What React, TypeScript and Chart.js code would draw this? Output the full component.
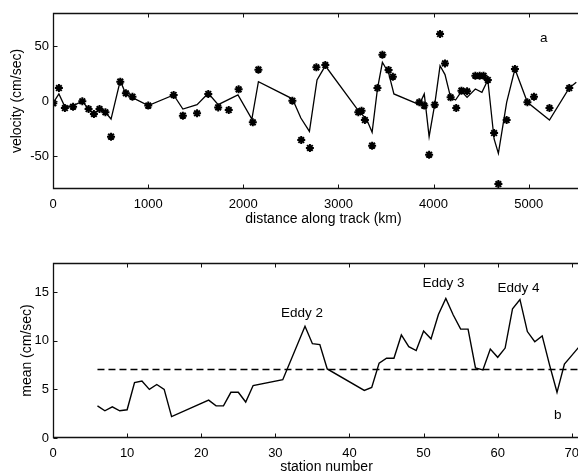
import React, { useEffect, useRef } from 'react';
import { Chart, registerables } from 'chart.js';

Chart.register(...registerables);
Chart.defaults.font.family = "'Liberation Sans', Arial, Helvetica, sans-serif";
Chart.defaults.color = '#000';

// ---------- Panel a: velocity along track ----------
const lineDistanceKm = [0, 62, 125, 211, 308, 374, 430, 489, 551, 610, 707, 766, 835, 1001, 1268, 1365, 1514, 1632, 1736, 1944, 2090, 2159, 2516, 2605, 2695, 2775, 2862, 3209, 3295, 3354, 3410, 3462, 3527, 3583, 3850, 3902, 3953, 4012, 4068, 4120, 4179, 4231, 4293, 4352, 4439, 4508, 4570, 4636, 4681, 4768, 4855, 4986, 5218, 5426, 5500];
const lineVelocity = [-2, 6.4, -5.2, -4.2, -0.3, -7.3, -11.8, -7.3, -10.3, -16.4, 18.5, 6.1, 3, -4.2, 5.5, -7.3, -3.3, 7, -3.3, 5.5, -16.4, 17.6, 2, -15.5, -27.6, 19.1, 32, -8.8, -16.4, -28.5, 11, 35.2, 25.5, 6.4, -3.3, 6.4, -32.4, -3, 32, 24, 3.3, 0.9, 8.8, 3.3, 10.9, 7.9, 19.1, -34.5, -47.6, -1.2, 29.1, -1.2, -17.3, 11.8, 17];

const starDistanceKm = [3, 62, 125, 211, 308, 374, 430, 489, 551, 610, 707, 766, 835, 1001, 1268, 1365, 1514, 1632, 1736, 1847, 1951, 2100, 2159, 2516, 2609, 2700, 2768, 2862, 3209, 3243, 3278, 3354, 3410, 3462, 3527, 3572, 3850, 3902, 3953, 4012, 4068, 4120, 4179, 4238, 4293, 4352, 4439, 4484, 4525, 4570, 4636, 4681, 4768, 4855, 4986, 5055, 5218, 5426];
const starVelocity = [-2.1, 11.8, -6.4, -5.2, -0.3, -7.3, -11.8, -7.3, -10.3, -32.4, 17.6, 7, 3.9, -4.2, 5.5, -13.3, -11.2, 6.4, -5.8, -8.2, 10.6, -19.4, 28.5, 0.3, -35.5, -42.7, 30.6, 32.7, -10.3, -8.8, -17.3, -40.6, 11.8, 42.1, 28.2, 22.1, -1.2, -4.2, -48.8, -3.4, 60.9, 34.2, 3.3, -6.4, 9.4, 8.8, 23, 23, 23, 19.1, -29.1, -75.5, -17.3, 29.1, -1.2, 3.9, -6.4, 11.8];

const distanceTicks = [0, 1000, 2000, 3000, 4000, 5000];
const velocityTicks = [-50, 0, 50];

// ---------- Panel b: mean speed by station ----------
const stationNumbers = [6, 7, 8, 9, 10, 11, 12, 13, 14, 15, 16, 21, 22, 23, 24, 25, 26, 27, 31, 34, 35, 36, 37, 42, 43, 44, 45, 46, 47, 48, 49, 50, 51, 52, 53, 54, 55, 56, 57, 58, 59, 60, 61, 62, 63, 64, 65, 66, 67, 68, 69, 70, 71];
const meanSpeed = [3.3, 2.8, 3.2, 2.8, 2.9, 5.7, 5.85, 5.0, 5.5, 5.0, 2.2, 3.9, 3.3, 3.3, 4.7, 4.7, 3.7, 5.4, 6.0, 11.5, 9.7, 9.6, 7.1, 4.9, 5.2, 7.7, 8.2, 8.2, 10.6, 9.4, 9.0, 11.0, 10.2, 12.7, 14.35, 12.65, 11.2, 11.2, 7.2, 7.0, 9.15, 8.3, 9.25, 13.3, 14.25, 10.95, 9.9, 10.5, 7.5, 4.7, 7.6, 8.5, 9.4];
const thresholdStations = [6, 71];
const thresholdMean = [7.05, 7.05];

const stationTicks = [0, 10, 20, 30, 40, 50, 60, 70];
const meanTicks = [0, 5, 10, 15];

// ---------- text annotations (data coordinates) ----------
const panelALabels = [{ text: 'a', x: 5159, y: 57 }];
const panelBLabels = [
  { text: 'Eddy 2', x: 33.6, y: 12.86 },
  { text: 'Eddy 3', x: 52.7, y: 15.9 },
  { text: 'Eddy 4', x: 62.8, y: 15.4 },
  { text: 'b', x: 68.1, y: 2.37 },
];

const FONT = "'Liberation Sans', Arial, Helvetica, sans-serif";

function toPoints(xs: number[], ys: number[]) {
  return xs.map((x, i) => ({ x, y: ys[i] }));
}

function makeFramePlugin(labels: { text: string; x: number; y: number }[]) {
  return {
    id: 'frame',
    afterDatasetsDraw(chart: any) {
      const { ctx, chartArea } = chart;
      const xs = chart.scales.x;
      const ys = chart.scales.y;
      const L = Math.round(chartArea.left) + 0.5;
      const R = Math.round(chartArea.right) - 0.5;
      const T = Math.round(chartArea.top) + 0.5;
      const B = Math.round(chartArea.bottom) - 0.5;
      ctx.save();
      ctx.strokeStyle = '#111';
      ctx.lineWidth = 1.3;
      ctx.beginPath();
      ctx.rect(L, T, R - L, B - T);
      ctx.stroke();
      const tl = 4;
      ctx.lineWidth = 1;
      ctx.beginPath();
      for (const t of xs.ticks) {
        const px = Math.round(xs.getPixelForValue(t.value)) + 0.5;
        ctx.moveTo(px, B);
        ctx.lineTo(px, B - tl);
        ctx.moveTo(px, T);
        ctx.lineTo(px, T + tl);
      }
      for (const t of ys.ticks) {
        const py = Math.round(ys.getPixelForValue(t.value)) + 0.5;
        ctx.moveTo(L, py);
        ctx.lineTo(L + tl, py);
        ctx.moveTo(R, py);
        ctx.lineTo(R - tl, py);
      }
      ctx.stroke();
      ctx.fillStyle = '#000';
      ctx.font = `13.5px ${FONT}`;
      ctx.textAlign = 'center';
      ctx.textBaseline = 'middle';
      for (const l of labels) {
        ctx.fillText(l.text, xs.getPixelForValue(l.x), ys.getPixelForValue(l.y));
      }
      ctx.restore();
    },
  };
}

function axisX(min: number, max: number, ticks: number[], title: string, titlePadBottom: number, height: number) {
  return {
    type: 'linear',
    min,
    max,
    grid: { display: false, drawTicks: false },
    border: { display: false },
    afterBuildTicks: (s: any) => {
      s.ticks = ticks.map((v) => ({ value: v }));
    },
    afterFit: (s: any) => {
      s.height = height;
    },
    ticks: { font: { size: 13 }, color: '#000', padding: 8, maxRotation: 0, autoSkip: false, callback: (v: any) => String(v) },
    title: { display: true, text: title, font: { size: 14 }, color: '#000', padding: { top: 0, bottom: titlePadBottom } },
  };
}

function axisY(min: number, max: number, ticks: number[], title: string, titlePadTop: number) {
  return {
    type: 'linear',
    min,
    max,
    grid: { display: false, drawTicks: false },
    border: { display: false },
    afterBuildTicks: (s: any) => {
      s.ticks = ticks.map((v) => ({ value: v }));
    },
    afterFit: (s: any) => {
      s.width = 53;
    },
    ticks: { font: { size: 13 }, color: '#000', padding: 4, autoSkip: false, callback: (v: any) => String(v) },
    title: { display: true, text: title, font: { size: 14 }, color: '#000', padding: { top: titlePadTop, bottom: 0 } },
  };
}

export default function App() {
  const topRef = useRef<HTMLCanvasElement>(null);
  const botRef = useRef<HTMLCanvasElement>(null);

  useEffect(() => {
    const top = new Chart(topRef.current as HTMLCanvasElement, {
      type: 'scatter',
      data: {
        datasets: [
          {
            data: toPoints(lineDistanceKm, lineVelocity),
            showLine: true,
            borderColor: '#000',
            borderWidth: 1.3,
            pointRadius: 0,
            tension: 0,
          },
          {
            data: toPoints(starDistanceKm, starVelocity),
            showLine: false,
            pointStyle: 'star',
            pointRadius: 4,
            borderColor: '#000',
            backgroundColor: '#000',
            borderWidth: 2,
          },
        ],
      } as any,
      options: {
        responsive: false,
        animation: false,
        devicePixelRatio: 1,
        layout: { padding: { top: 13, left: 0, right: 0, bottom: 0 } },
        plugins: { legend: { display: false }, tooltip: { enabled: false } },
        scales: {
          x: axisX(0, 5686, distanceTicks, 'distance along track (km)', 12.6, 51),
          y: axisY(-80, 80, velocityTicks, 'velocity (cm/sec)', 8.6),
        },
      } as any,
      plugins: [makeFramePlugin(panelALabels)],
    });

    const bottom = new Chart(botRef.current as HTMLCanvasElement, {
      type: 'scatter',
      data: {
        datasets: [
          {
            data: toPoints(stationNumbers, meanSpeed),
            showLine: true,
            borderColor: '#000',
            borderWidth: 1.4,
            pointRadius: 0,
            tension: 0,
          },
          {
            data: toPoints(thresholdStations, thresholdMean),
            showLine: true,
            borderColor: '#000',
            borderWidth: 1.5,
            borderDash: [7, 4],
            pointRadius: 0,
          },
        ],
      } as any,
      options: {
        responsive: false,
        animation: false,
        devicePixelRatio: 1,
        layout: { padding: { top: 23, left: 0, right: 0, bottom: 0 } },
        plugins: { legend: { display: false }, tooltip: { enabled: false } },
        scales: {
          x: axisX(0, 73.8, stationTicks, 'station number', -2, 36),
          y: axisY(0, 18, meanTicks, 'mean (cm/sec)', 18.6),
        },
      } as any,
      plugins: [makeFramePlugin(panelBLabels)],
    });

    return () => {
      top.destroy();
      bottom.destroy();
    };
  }, []);

  return (
    <div style={{ position: 'fixed', left: 0, top: 0, width: 578, height: 474, overflow: 'hidden', background: '#fff' }}>
      <canvas ref={topRef} width={600} height={240} style={{ position: 'absolute', left: 0, top: 0, width: 600, height: 240 }} />
      <canvas ref={botRef} width={600} height={234} style={{ position: 'absolute', left: 0, top: 240, width: 600, height: 234 }} />
    </div>
  );
}
